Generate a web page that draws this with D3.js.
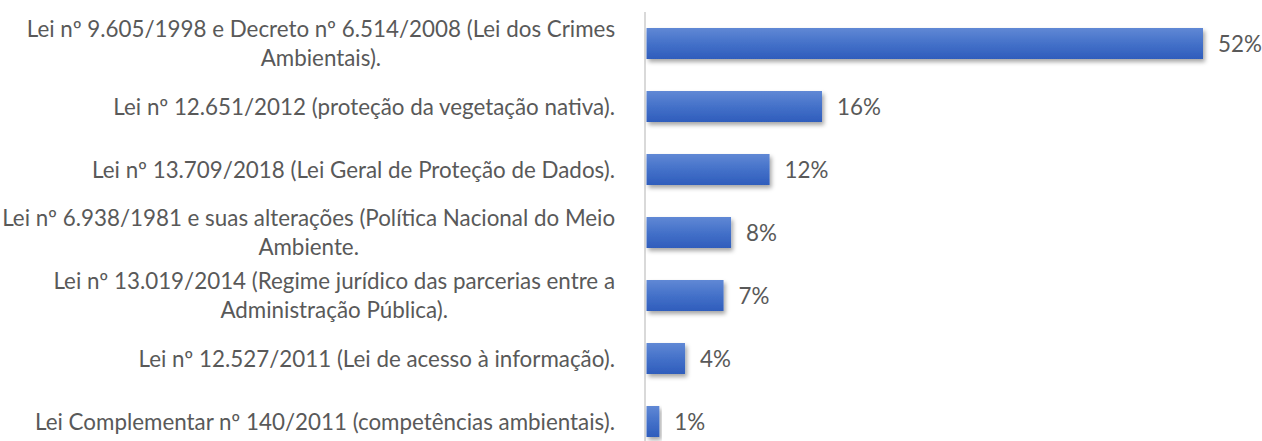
<!DOCTYPE html>
<html>
<head>
<meta charset="utf-8">
<script src="https://cdn.jsdelivr.net/npm/d3@7"></script>
<style>
  html, body { margin: 0; padding: 0; background: #ffffff; }
  svg { display: block; }
</style>
</head>
<body>
<svg id="chart" width="1262" height="441"></svg>
<script>
// ---- data ----
const categories = [
  "Lei nº 9.605/1998 e Decreto nº 6.514/2008 (Lei dos Crimes\nAmbientais).",
  "Lei nº 12.651/2012 (proteção da vegetação nativa).",
  "Lei nº 13.709/2018 (Lei Geral de Proteção de Dados).",
  "Lei nº 6.938/1981 e suas alterações (Política Nacional do Meio\nAmbiente.",
  "Lei nº 13.019/2014 (Regime jurídico das parcerias entre a\nAdministração Pública).",
  "Lei nº 12.527/2011 (Lei de acesso à informação).",
  "Lei Complementar nº 140/2011 (competências ambientais)."
];
const values = [52.0, 16.4, 11.5, 7.9, 7.2, 3.6, 1.2];

// ---- layout ----
const W = 1262, H = 441;
const axisX = 646.5;
const svg = d3.select("#chart");
const fontFamily = "Lato, 'Open Sans', sans-serif";
const textColor = "#595959";

// fit substitute font to Calibri-like width
const probe = svg.append("text").attr("font-family", fontFamily).attr("font-size", 24)
  .text("Lei Complementar nº 140/2011 (competências ambientais).");
const probeW = probe.node().getComputedTextLength();
probe.remove();
const fs = 24 * 580 / probeW;

const x = d3.scaleLinear().domain([0, 52]).range([axisX, 1203]);
const y = d3.scaleBand().domain(categories).range([12, 453])
  .paddingInner(0.508).paddingOuter(0.254);

const defs = svg.append("defs");
const grad = defs.append("linearGradient").attr("id", "barGrad")
  .attr("x1", 0).attr("y1", 0).attr("x2", 0).attr("y2", 1);
grad.append("stop").attr("offset", "0%").attr("stop-color", "#6088d5");
grad.append("stop").attr("offset", "50%").attr("stop-color", "#4471c9");
grad.append("stop").attr("offset", "100%").attr("stop-color", "#2f5dbc");

const f = defs.append("filter").attr("id", "shadow")
  .attr("x", "-10%").attr("y", "-30%").attr("width", "130%").attr("height", "180%");
f.append("feDropShadow").attr("dx", 2).attr("dy", 3).attr("stdDeviation", 2)
  .attr("flood-color", "#000").attr("flood-opacity", 0.35);

// axis line
svg.append("line")
  .attr("x1", axisX - 1.5).attr("x2", axisX - 1.5)
  .attr("y1", 12).attr("y2", H)
  .attr("stroke", "#d9d9d9").attr("stroke-width", 2);

// bars
svg.append("g").selectAll("rect").data(categories).join("rect")
  .attr("x", x(0))
  .attr("y", d => y(d))
  .attr("width", (d, i) => x(values[i]) - x(0))
  .attr("height", y.bandwidth())
  .attr("fill", "url(#barGrad)")
  .attr("filter", "url(#shadow)");

// value labels
svg.append("g").selectAll("text").data(categories).join("text")
  .attr("x", (d, i) => x(values[i]) + 15)
  .attr("y", d => y(d) + y.bandwidth() / 2)
  .attr("dy", "0.36em")
  .attr("font-family", fontFamily).attr("font-size", fs)
  .attr("fill", textColor)
  .text((d, i) => Math.round(values[i]) + "%");

// category labels (wrapped lines centered within block, block right-aligned)
const lineH = 29;
const labelRight = 615;
const lg = svg.append("g").attr("font-family", fontFamily).attr("font-size", fs).attr("fill", textColor);
categories.forEach(c => {
  const lines = c.split("\n");
  const cy = y(c) + y.bandwidth() / 2;
  const t = lg.append("text");
  const spans = lines.map((ln, k) => t.append("tspan").text(ln));
  const widths = spans.map(s => s.node().getComputedTextLength());
  const maxW = d3.max(widths);
  const centerX = labelRight - maxW / 2;
  spans.forEach((s, k) => {
    s.attr("x", centerX).attr("text-anchor", "middle")
     .attr("y", cy + (k - (lines.length - 1) / 2) * lineH)
     .attr("dy", "0.36em");
  });
});
</script>
</body>
</html>
